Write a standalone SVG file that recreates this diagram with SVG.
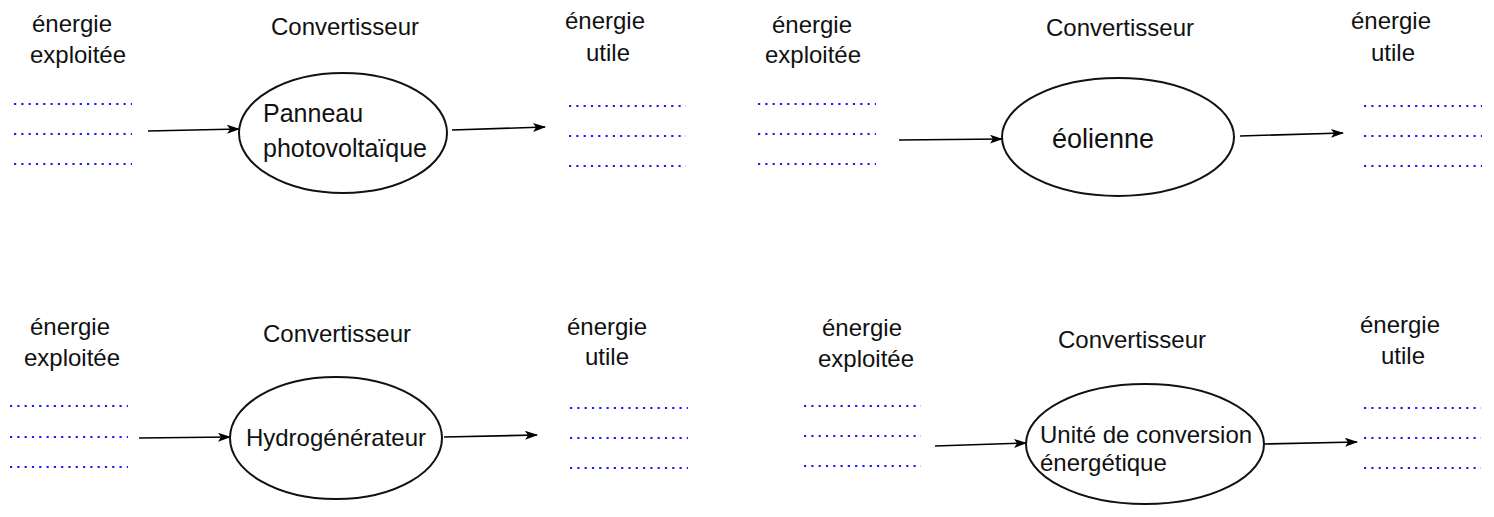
<svg xmlns="http://www.w3.org/2000/svg" width="1494" height="517" viewBox="0 0 1494 517">
<style>
  text { font-family: "Liberation Sans", Arial, sans-serif; fill: #111; }
  .lbl { font-size: 24px; text-anchor: middle; }
  .nt { font-size: 24px; }
  .dots { stroke: #1a1aff; stroke-width: 2.2; stroke-dasharray: 2.2 5.1; fill: none; }
  .node { fill: #fff; stroke: #111; stroke-width: 2; }
  .conn { stroke: #000; stroke-width: 1.6; fill: none; marker-end: url(#arr); }
</style>
<defs>
  <marker id="arr" viewBox="0 0 13 9" refX="12" refY="4.5" markerWidth="13" markerHeight="9" markerUnits="userSpaceOnUse" orient="auto">
    <path d="M0,0 L13,4.5 L0,9 L3,4.5 z" fill="#000"/>
  </marker>
</defs>
<rect width="1494" height="517" fill="#fff"/>

<g id="labels">
  <text class="lbl" x="72" y="32">énergie</text>
  <text class="lbl" x="78" y="63">exploitée</text>
  <text class="lbl" x="345" y="35">Convertisseur</text>
  <text class="lbl" x="605" y="29">énergie</text>
  <text class="lbl" x="608" y="61">utile</text>

  <text class="lbl" x="812" y="33">énergie</text>
  <text class="lbl" x="813" y="63">exploitée</text>
  <text class="lbl" x="1120" y="36">Convertisseur</text>
  <text class="lbl" x="1391" y="29">énergie</text>
  <text class="lbl" x="1393" y="61">utile</text>

  <text class="lbl" x="70" y="335">énergie</text>
  <text class="lbl" x="72" y="366">exploitée</text>
  <text class="lbl" x="337" y="342">Convertisseur</text>
  <text class="lbl" x="607" y="335">énergie</text>
  <text class="lbl" x="607" y="365">utile</text>

  <text class="lbl" x="862" y="336">énergie</text>
  <text class="lbl" x="866" y="367">exploitée</text>
  <text class="lbl" x="1132" y="348">Convertisseur</text>
  <text class="lbl" x="1400" y="333">énergie</text>
  <text class="lbl" x="1403" y="364">utile</text>
</g>

<g id="blanks">
  <path class="dots" d="M14,104 H132 M14,134 H132 M14,164 H132"/>
  <path class="dots" d="M569,106 H686 M569,136 H686 M569,166 H686"/>
  <path class="dots" d="M758,104 H876 M758,134 H876 M758,164 H876"/>
  <path class="dots" d="M1364,106 H1482 M1364,136 H1482 M1364,166 H1482"/>
  <path class="dots" d="M10,406 H128 M10,437 H128 M10,467 H128"/>
  <path class="dots" d="M570,408 H688 M570,438 H688 M570,468 H688"/>
  <path class="dots" d="M804,406 H921 M804,436 H921 M804,466 H921"/>
  <path class="dots" d="M1364,408 H1481 M1364,438 H1481 M1364,468 H1481"/>
</g>

<g id="connectors">
  <line class="conn" x1="148" y1="131" x2="239" y2="129"/>
  <line class="conn" x1="452" y1="130" x2="545" y2="127"/>
  <line class="conn" x1="899" y1="140" x2="1002" y2="139"/>
  <line class="conn" x1="1240" y1="136" x2="1343" y2="133"/>
  <line class="conn" x1="139" y1="438" x2="230" y2="437"/>
  <line class="conn" x1="444" y1="437" x2="537" y2="435"/>
  <line class="conn" x1="935" y1="446" x2="1026" y2="443"/>
  <line class="conn" x1="1264" y1="444" x2="1357" y2="442"/>
</g>

<g id="node-panneau">
  <ellipse class="node" cx="343" cy="133" rx="104" ry="60"/>
  <text class="nt" x="263" y="122" style="font-size:25px">Panneau</text>
  <text class="nt" x="263" y="157" style="font-size:25px">photovoltaïque</text>
</g>
<g id="node-eolienne">
  <ellipse class="node" cx="1118" cy="137" rx="116" ry="59"/>
  <text class="nt" x="1103" y="148" text-anchor="middle" style="font-size:27px">éolienne</text>
</g>
<g id="node-hydro">
  <ellipse class="node" cx="336" cy="438" rx="106" ry="61"/>
  <text class="nt" x="336" y="446" text-anchor="middle">Hydrogénérateur</text>
</g>
<g id="node-unite">
  <ellipse class="node" cx="1145" cy="444" rx="119" ry="60"/>
  <text class="nt" x="1040" y="443">Unité de conversion</text>
  <text class="nt" x="1040" y="471">énergétique</text>
</g>
</svg>
